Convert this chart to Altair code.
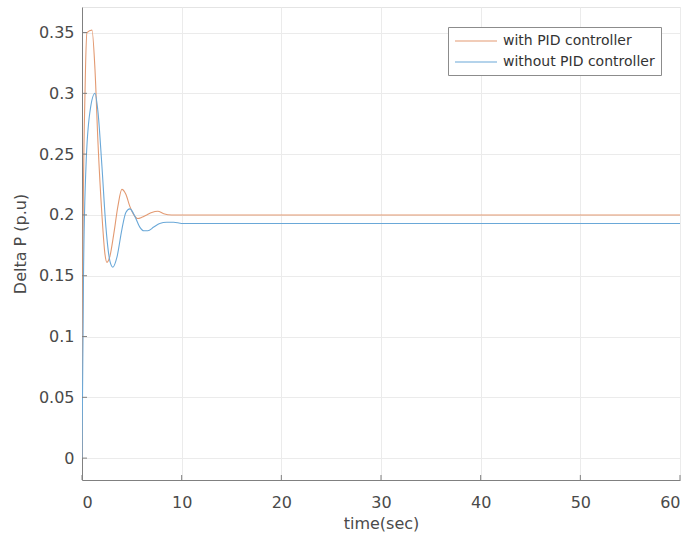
import altair as alt
import pandas as pd

# Step response of the load-frequency loop, with and without the PID controller
t_pid = [0, 0.1, 0.3, 0.5, 1.0, 1.3, 1.6, 2.0, 2.3, 2.5, 2.8, 3.2, 3.6, 4.0, 4.4,
         4.8, 5.2, 5.6, 6.0, 6.5, 7.0, 7.6, 8.2, 9.0, 10, 60]
p_pid = [0, 0.18, 0.30, 0.35, 0.352, 0.32, 0.26, 0.20, 0.168, 0.161, 0.166, 0.185,
         0.207, 0.221, 0.217, 0.207, 0.200, 0.197, 0.198, 0.200, 0.202, 0.203, 0.201,
         0.200, 0.200, 0.200]

t_nopid = [0, 0.15, 0.4, 0.8, 1.3, 1.6, 2.0, 2.4, 2.8, 3.1, 3.5, 4.0, 4.4, 4.8, 5.3,
           5.8, 6.2, 6.6, 7.2, 7.8, 8.5, 9.2, 10, 60]
p_nopid = [0, 0.15, 0.24, 0.285, 0.30, 0.285, 0.24, 0.19, 0.162, 0.157, 0.165, 0.188,
           0.202, 0.205, 0.199, 0.190, 0.187, 0.187, 0.190, 0.193, 0.194, 0.194, 0.193,
           0.193]

series = ["with PID controller", "without PID controller"]
colors = ["#e39a72", "#6aa8d8"]

x_ticks = [0, 10, 20, 30, 40, 50, 60]
y_ticks = [0, 0.05, 0.1, 0.15, 0.2, 0.25, 0.3, 0.35]

df = pd.concat([
    pd.DataFrame({"t": t_pid, "p": p_pid, "s": series[0]}),
    pd.DataFrame({"t": t_nopid, "p": p_nopid, "s": series[1]}),
])

W, H = 598, 473
FONT = "DejaVu Sans"
TXT = "#4a4a4a"

xs = alt.Scale(domain=[0, 60], nice=False, zero=False)
ys = alt.Scale(domain=[-0.018, 0.371], nice=False, zero=False)

# legend swatch: a wide horizontal stroke on a small nominal symbol size
lines = alt.Chart(df).mark_line(strokeWidth=1.1, interpolate="monotone", clip=True).encode(
    x=alt.X("t:Q", scale=xs, title="time(sec)",
            axis=alt.Axis(values=x_ticks, titleX=W / 2, titleY=43, titleBaseline="middle")),
    y=alt.Y("p:Q", scale=ys, title="Delta P (p.u)",
            axis=alt.Axis(values=y_ticks, format=".2~f", titleX=-62, titleY=H / 2,
                          titleBaseline="middle")),
    color=alt.Color("s:N", scale=alt.Scale(domain=series, range=colors),
                    legend=alt.Legend(title=None, orient="none", legendX=366, legendY=20,
                                      symbolType="M-3,0H3", symbolSize=196,
                                      symbolOffset=14, symbolStrokeWidth=1.1,
                                      labelFontSize=14, labelOffset=19, rowPadding=6,
                                      padding=6, fillColor="white", strokeColor="#8c8c8c",
                                      labelColor="#333333", labelFont=FONT)),
    order=alt.Order("t:Q"),
)

# inward tick marks, drawn as short rules on the axis lines
xt = alt.Chart(pd.DataFrame({"t": x_ticks})).mark_rule(color="#808080").encode(
    x=alt.X("t:Q", scale=xs), y=alt.value(H), y2=alt.value(H - 5))
yt = alt.Chart(pd.DataFrame({"p": y_ticks})).mark_rule(color="#808080").encode(
    y=alt.Y("p:Q", scale=ys), x=alt.value(0), x2=alt.value(5))

chart = alt.layer(lines, xt, yt).properties(
    width=W, height=H,
    autosize=alt.AutoSizeParams(type="none"),
    padding={"left": 82, "top": 7, "right": 12, "bottom": 57},
    background="white",
).configure_view(
    stroke="#e4e4e4", strokeWidth=1
).configure_axis(
    labelFont=FONT, titleFont=FONT, labelFontSize=16, titleFontSize=16,
    labelColor=TXT, titleColor=TXT, titleFontWeight="normal",
    grid=True, gridColor="#ebebeb", gridWidth=1,
    domainColor="#808080", domainWidth=1, ticks=False, tickSize=0,
).configure_axisX(
    labelPadding=14
).configure_axisY(
    labelPadding=8
)

chart.save("out.html", embed_options={"renderer": "svg", "actions": False})
